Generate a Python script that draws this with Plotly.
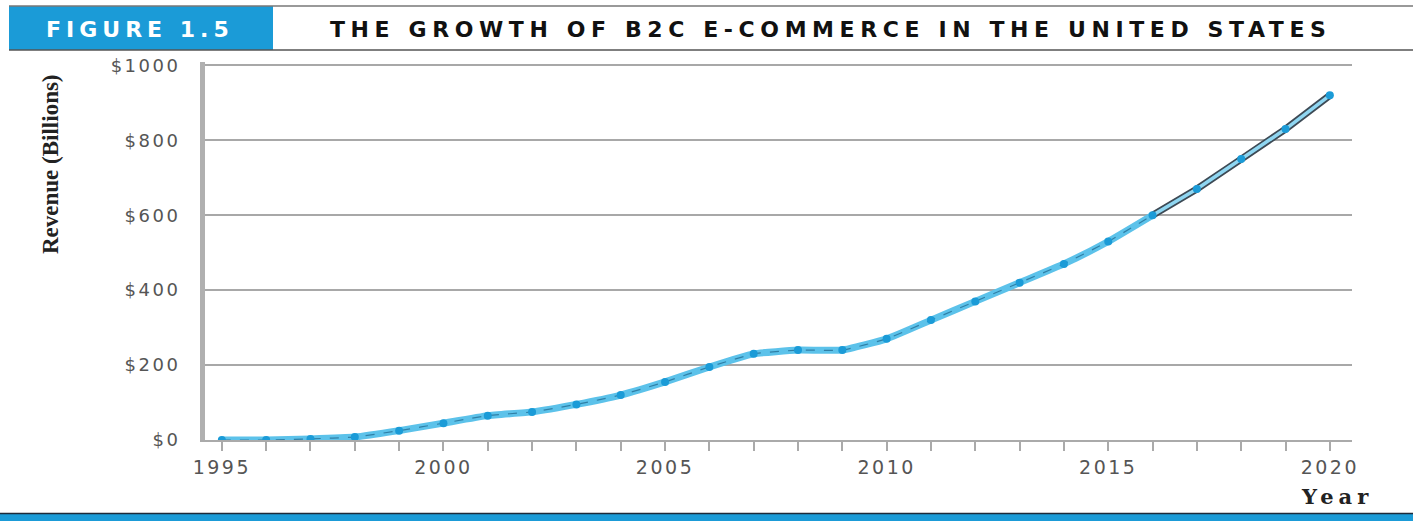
import plotly.graph_objects as go

years = list(range(1995, 2021))
revenue = [0, 0, 3, 8, 25, 45, 65, 75, 95, 120, 155, 195, 230, 240, 240, 270,
           320, 370, 420, 470, 530, 600, 670, 750, 830, 920]
proj_start = 2016
y_ticks = [0, 200, 400, 600, 800, 1000]
y_ticklabels = ["$0", "$200", "$400", "$600", "$800", "$1000"]
x_ticks = [1995, 2000, 2005, 2010, 2015, 2020]

W, H = 1413, 521
L, R, T, B = 205, 1352, 62, 440

def px(x):
    return (x - L) / (R - L)

def py(y):
    return (B - y) / (B - T)

def spaced(s, sp):
    return f'<span style="letter-spacing:{sp}px">{s}</span>'

BLUE = "#1b9bd7"
LINE_BLUE = "#5cc2ea"

fig = go.Figure()

fig.add_trace(go.Scatter(x=years[:22], y=revenue[:22], mode="lines",
                         line=dict(color=LINE_BLUE, width=7, shape="spline", smoothing=0.4),
                         hoverinfo="skip", showlegend=False))
fig.add_trace(go.Scatter(x=years[:22], y=revenue[:22], mode="lines",
                         line=dict(color="#2f7fa6", width=1.2, dash="dash", shape="spline", smoothing=0.4),
                         hoverinfo="skip", showlegend=False))
pi = years.index(proj_start)
fig.add_trace(go.Scatter(x=years[pi:], y=revenue[pi:], mode="lines",
                         line=dict(color="#3d4a55", width=7),
                         hoverinfo="skip", showlegend=False))
fig.add_trace(go.Scatter(x=years[pi:], y=revenue[pi:], mode="lines",
                         line=dict(color="#8fd6f1", width=3.5),
                         hoverinfo="skip", showlegend=False))
fig.add_trace(go.Scatter(x=years, y=revenue, mode="markers",
                         marker=dict(color=BLUE, size=8),
                         showlegend=False))

shapes = [
    dict(type="line", xref="paper", yref="paper", x0=px(9), x1=px(1413), y0=py(6), y1=py(6),
         line=dict(color="#777777", width=1.5)),
    dict(type="line", xref="paper", yref="paper", x0=px(9), x1=px(1413), y0=py(50), y1=py(50),
         line=dict(color="#555555", width=1.5)),
    dict(type="rect", xref="paper", yref="paper", x0=px(9), x1=px(273), y0=py(50), y1=py(6),
         fillcolor=BLUE, line=dict(width=0), layer="below"),
    dict(type="rect", xref="paper", yref="paper", x0=px(0), x1=px(1413), y0=py(521), y1=py(514),
         fillcolor=BLUE, line=dict(width=0)),
    dict(type="line", xref="paper", yref="paper", x0=px(0), x1=px(1413), y0=py(513.5), y1=py(513.5),
         line=dict(color="#1d2b3a", width=1.5)),
]

annotations = [
    dict(text=spaced("<b>FIGURE 1.5</b>", 5), xref="paper", yref="paper",
         x=px(140), y=py(29), xanchor="center", yanchor="middle", showarrow=False,
         font=dict(family="DejaVu Sans", size=22, color="white")),
    dict(text=spaced("<b>THE GROWTH OF B2C E-COMMERCE IN THE UNITED STATES</b>", 5.6),
         xref="paper", yref="paper",
         x=px(831), y=py(29), xanchor="center", yanchor="middle", showarrow=False,
         font=dict(family="DejaVu Sans", size=22, color="#111111")),
    dict(text="<b>Revenue (Billions)</b>", xref="paper", yref="paper",
         x=px(50), y=py(164), xanchor="center", yanchor="middle", textangle=-90, showarrow=False,
         font=dict(family="Liberation Serif", size=23, color="#222222")),
    dict(text=spaced("<b>Year</b>", 5), xref="paper", yref="paper",
         x=px(1375), y=py(497), xanchor="right", yanchor="middle", showarrow=False,
         font=dict(family="DejaVu Serif", size=21, color="#222222")),
]

fig.update_layout(
    width=W, height=H,
    margin=dict(l=L, r=W - R, t=T, b=H - B, pad=0),
    paper_bgcolor="white", plot_bgcolor="white",
    shapes=shapes, annotations=annotations,
    showlegend=False,
    xaxis=dict(range=[1994.62, 2020.5], tickvals=x_ticks, ticktext=[spaced(str(v), 2.5) for v in x_ticks],
               showgrid=False, zeroline=False, showline=True, linecolor="#aaaaaa", linewidth=2,
               ticks="outside", ticklen=9, tickcolor="#aaaaaa", tickwidth=1.5,
               minor=dict(dtick=1, tick0=1995, ticks="outside", ticklen=9, tickcolor="#aaaaaa",
                          tickwidth=1.5, showgrid=False),
               tickfont=dict(family="DejaVu Sans", size=19, color="#555555")),
    yaxis=dict(range=[0, 1009], tickvals=y_ticks, ticktext=[spaced(t, 2.5) for t in y_ticklabels],
               showgrid=True, gridcolor="#a8a8a8", gridwidth=1.5, zeroline=False,
               showline=True, linecolor="#b0b0b0", linewidth=5, ticks="", ticklabelstandoff=16,
               tickfont=dict(family="DejaVu Sans", size=18, color="#555555")),
)

fig.write_html("out.html")
